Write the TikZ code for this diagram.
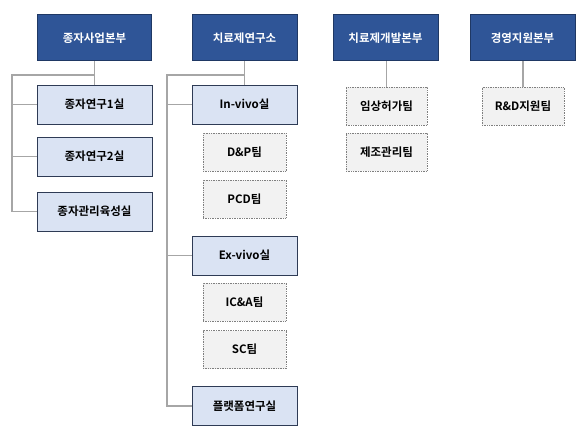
\documentclass[tikz,border=0pt]{standalone}
\usepackage{fontspec}
\setmainfont{Noto Sans CJK KR}[BoldFont={Noto Sans CJK KR Bold}]
\usetikzlibrary{positioning}

\definecolor{headfill}{HTML}{2F5597}
\definecolor{headline}{HTML}{1F3864}
\definecolor{unitfill}{HTML}{DAE3F3}
\definecolor{unitline}{HTML}{2E3B55}
\definecolor{teamfill}{HTML}{F2F2F2}
\definecolor{teamline}{HTML}{7F7F7F}
\definecolor{linkgray}{HTML}{A6A6A6}

\begin{document}
\begin{tikzpicture}[%
        x=1pt, y=-1pt,
        every node/.style={font=\bfseries\fontsize{11.5}{13}\selectfont, inner sep=0pt},
        head/.style={draw=headline, fill=headfill, text=white, line width=1pt,
                     minimum width=105pt, minimum height=46pt},
        unit/.style={draw=unitline, fill=unitfill, text=black, line width=0.8pt,
                     minimum width=105pt, minimum height=39pt},
        team/.style={draw=teamline, fill=teamfill, text=black, densely dotted, line width=0.7pt,
                     minimum width=83pt, minimum height=38pt},
        link/.style={draw=linkgray, line width=1.3pt}
        ]

        \useasboundingbox (0,0) rectangle (587,433);

        % column 1
        \node[head, minimum width=114pt] (hq1) at (94.5,38) {종자사업본부};
        \node[unit, minimum width=115pt] (u11) at (94.5,104.5) {종자연구1실};
        \node[unit, minimum width=115pt] (u12) at (94.5,156.5) {종자연구2실};
        \node[unit, minimum width=115pt] (u13) at (94.5,211.5) {종자관리육성실};
        \coordinate (j1) at (12,75);

        % column 2
        \node[head] (hq2) at (244.5,38) {치료제연구소};
        \node[unit] (u21) at (244.5,104.5) {In-vivo실};
        \node[team] (t21) at (244.5,152.5) {D\&P팀};
        \node[team] (t22) at (244.5,199) {PCD팀};
        \node[unit] (u22) at (244.5,255.5) {Ex-vivo실};
        \node[team] (t23) at (244.5,302) {IC\&A팀};
        \node[team] (t24) at (244.5,349.5) {SC팀};
        \node[unit] (u23) at (244.5,406) {플랫폼연구실};
        \coordinate (j2) at (167,75);

        % column 3
        \node[head] (hq3) at (385.5,38) {치료제개발본부};
        \node[team, minimum width=81pt] (t31) at (386.5,106.5) {임상허가팀};
        \node[team, minimum width=81pt] (t32) at (386.5,152) {제조관리팀};

        % column 4
        \node[head] (hq4) at (522.5,38) {경영지원본부};
        \node[team, minimum width=82pt] (t41) at (523,106.5) {R\&D지원팀};

        \path[link] (hq1) -- (u11);
        \path[link] (hq1 |- j1) -- (j1) |- (u13);
        \path[link] (j1 |- u11) -- (u11);
        \path[link] (j1 |- u12) -- (u12);

        \path[link] (hq2) -- (u21);
        \path[link] (hq2 |- j2) -- (j2) |- (u23);
        \path[link] (j2 |- u21) -- (u21);
        \path[link] (j2 |- u22) -- (u22);

        \path[link] (hq3.south -| t31) -- (t31);
        \path[link] (hq4.south -| t41) -- (t41);

\end{tikzpicture}
\end{document}
